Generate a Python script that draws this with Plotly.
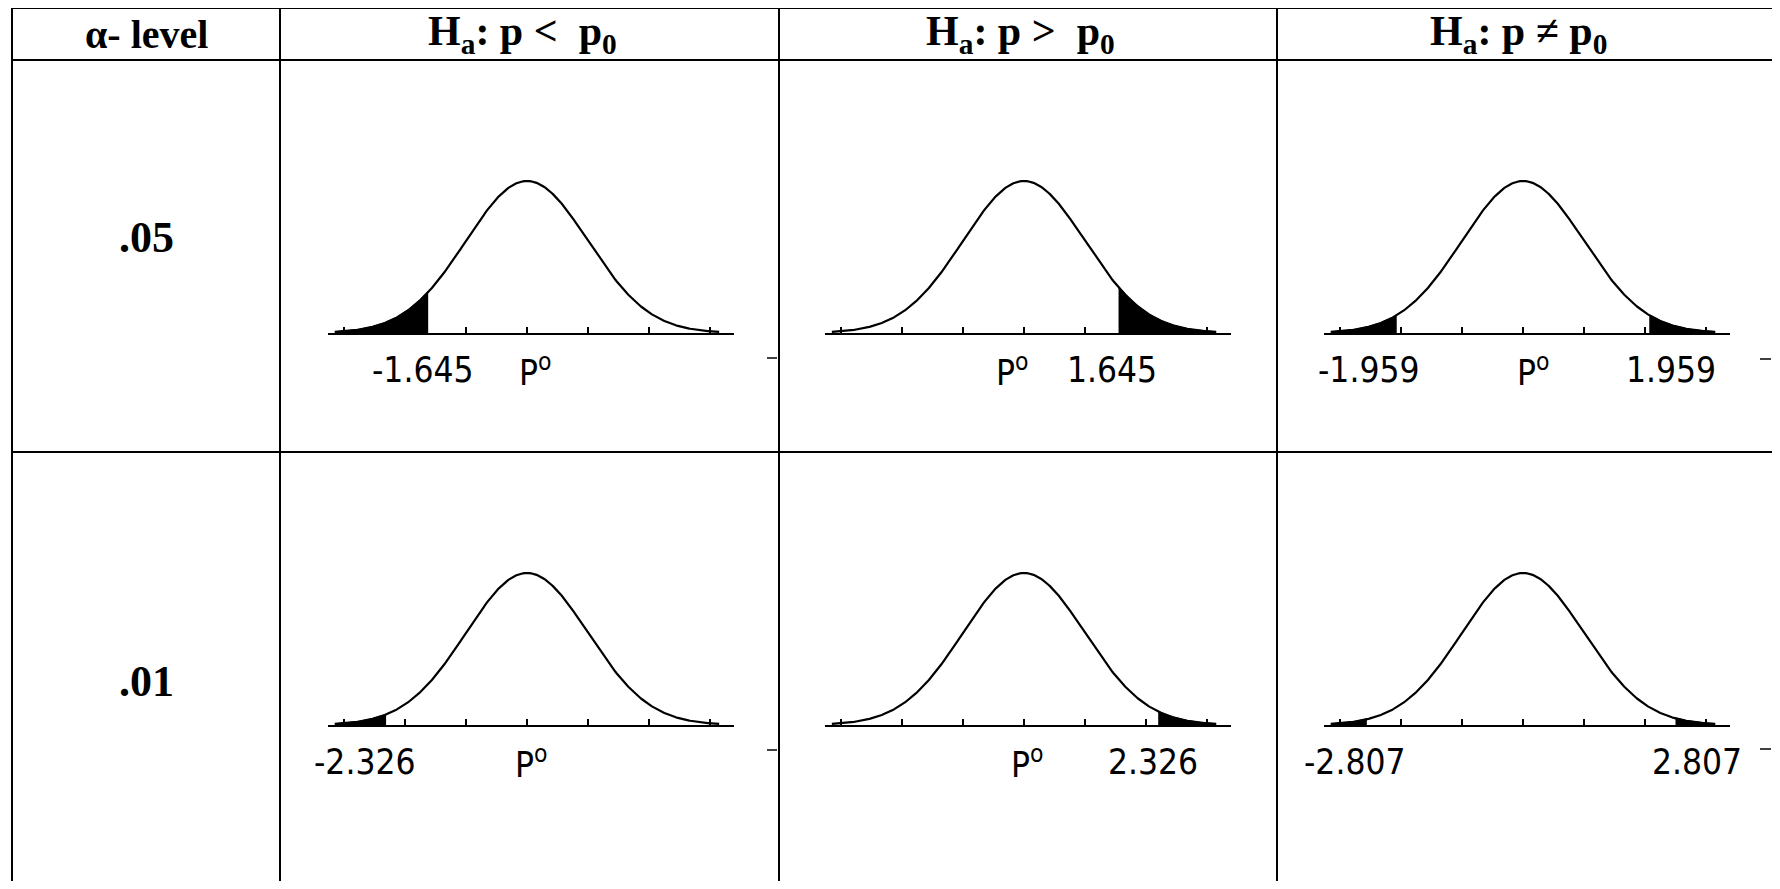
import numpy as np
import plotly.graph_objects as go

W, H = 1780, 889
# the html page puts an 8px body margin round the figure
OFF = 8
FW, FH = W - OFF, H - 2 * OFF

# table text
headers = ["α- level", "H<sub>a</sub>: p <  p<sub>0</sub>",
           "H<sub>a</sub>: p >  p<sub>0</sub>", "H<sub>a</sub>: p ≠ p<sub>0</sub>"]
header_sizes = [40, 42, 42, 42]
alpha_levels = [".05", ".01"]

# tick marks on each baseline, in standard deviations from p0
tick_vals = [-3, -2, -1, 0, 1, 2, 3]

# where the shaded tails start (sd units)
shade_left = [[-1.62, None, -2.07], [-2.31, None, -2.56]]
shade_right = [[None, 1.55, 2.07], [None, 2.2, 2.5]]

# handwritten labels under the curves: text and position (sd units)
P0 = "P<sup>o</sup>"
labels = [
    [[("-1.645", -1.72), (P0, 0.13)],
     [(P0, -0.2), ("1.645", 1.44)],
     [("-1.959", -2.54), (P0, 0.16), ("1.959", 2.43)]],
    [[("-2.326", -2.66), (P0, 0.07)],
     [(P0, 0.05), ("2.326", 2.11)],
     [("-2.807", -2.77), ("2.807", 2.85)]],
]

# page layout (pixels of the page)
col_lines = [12, 280, 779, 1277, 1773]
row_lines = [8, 60, 452]
col_centers = [527, 1024, 1523]
header_x = [146, 522, 1020, 1518]
row_base = [333, 725]
sd_px = 61
peak_px = 152
x_range = [-3.27, 3.40]
y_top = 0.41


def px(x):
    return (x - OFF) / FW


def py(y):
    return 1 - (y - OFF) / FH


z = np.linspace(-3.15, 3.15, 401)
pdf = np.exp(-z ** 2 / 2) / np.sqrt(2 * np.pi)


def dens(v):
    return np.exp(-v ** 2 / 2) / np.sqrt(2 * np.pi)


fig = go.Figure()
annotations = []
shapes = []
layout_axes = {}

panel = 0
for r in range(2):
    for c in range(3):
        panel += 1
        xn = "x" if panel == 1 else f"x{panel}"
        yn = "y" if panel == 1 else f"y{panel}"
        xk = "xaxis" if panel == 1 else f"xaxis{panel}"
        yk = "yaxis" if panel == 1 else f"yaxis{panel}"

        cx = col_centers[c]
        x0 = cx + x_range[0] * sd_px
        x1 = cx + x_range[1] * sd_px
        base = row_base[r]
        h = peak_px * y_top / pdf.max()

        layout_axes[xk] = dict(
            domain=[px(x0), px(x1)], range=x_range, anchor=yn,
            showgrid=False, zeroline=False, showline=True,
            linecolor="black", linewidth=2, ticks="inside", ticklen=6,
            tickwidth=1.5, tickcolor="black", tickvals=tick_vals,
            showticklabels=False, fixedrange=True)
        layout_axes[yk] = dict(
            domain=[py(base), py(base - h)], range=[0, y_top], anchor=xn,
            visible=False, fixedrange=True)

        # shaded tails
        lo = shade_left[r][c]
        hi = shade_right[r][c]
        if lo is not None:
            m = z <= lo
            fig.add_trace(go.Scatter(
                x=np.append(z[m], lo), y=np.append(pdf[m], dens(lo)),
                xaxis=xn, yaxis=yn, mode="lines", fill="tozeroy",
                fillcolor="black", line=dict(color="black", width=1.5),
                hoverinfo="skip", showlegend=False))
        if hi is not None:
            m = z >= hi
            fig.add_trace(go.Scatter(
                x=np.insert(z[m], 0, hi), y=np.insert(pdf[m], 0, dens(hi)),
                xaxis=xn, yaxis=yn, mode="lines", fill="tozeroy",
                fillcolor="black", line=dict(color="black", width=1.5),
                hoverinfo="skip", showlegend=False))

        # the curve
        fig.add_trace(go.Scatter(
            x=z, y=pdf, xaxis=xn, yaxis=yn, mode="lines",
            line=dict(color="black", width=2.2), hoverinfo="skip",
            showlegend=False))

        for txt, pos in labels[r][c]:
            annotations.append(dict(
                x=pos, xref=xn, y=py(base + 37), yref="paper",
                text=txt, showarrow=False, xanchor="center", yanchor="middle",
                font=dict(family="DejaVu Sans Condensed, Liberation Sans Narrow, sans-serif",
                          size=35, color="black")))

# headers
for t, xx, sz in zip(headers, header_x, header_sizes):
    annotations.append(dict(
        x=px(xx), y=py(34), xref="paper", yref="paper",
        text=f"<b>{t}</b>", showarrow=False, xanchor="center", yanchor="middle",
        font=dict(family="Liberation Serif, Times New Roman, serif", size=sz, color="black")))

# alpha levels
for t, yy in zip(alpha_levels, [238, 681]):
    annotations.append(dict(
        x=px((col_lines[0] + col_lines[1]) / 2), y=py(yy), xref="paper", yref="paper",
        text=f"<b>{t}</b>", showarrow=False, xanchor="center", yanchor="middle",
        font=dict(family="Liberation Serif, Times New Roman, serif", size=44, color="black")))

# grid lines of the table
line = dict(color="black", width=2)
for yy in row_lines:
    shapes.append(dict(type="line", xref="paper", yref="paper",
                       x0=px(col_lines[0]), x1=px(col_lines[-1]), y0=py(yy), y1=py(yy), line=line))
for xx in col_lines[:-1]:
    shapes.append(dict(type="line", xref="paper", yref="paper",
                       x0=px(xx), x1=px(xx), y0=py(row_lines[0]), y1=py(H + 5), line=line))
# right border is broken in the scan
for a, b in [(row_lines[0], 350), (367, 742), (758, H + 5)]:
    shapes.append(dict(type="line", xref="paper", yref="paper",
                       x0=px(col_lines[-1]), x1=px(col_lines[-1]), y0=py(a), y1=py(b), line=line))
# small stray dashes next to the borders
for xa, xb, yy in [(767, 777, 358), (767, 777, 750), (1760, 1771, 359), (1760, 1771, 749)]:
    shapes.append(dict(type="line", xref="paper", yref="paper",
                       x0=px(xa), x1=px(xb), y0=py(yy), y1=py(yy),
                       line=dict(color="black", width=1.5)))

fig.update_layout(
    width=FW, height=FH,
    margin=dict(l=0, r=0, t=0, b=0),
    paper_bgcolor="white", plot_bgcolor="rgba(0,0,0,0)",
    showlegend=False,
    annotations=annotations,
    shapes=shapes,
    **layout_axes,
)

fig.write_html("out.html")
